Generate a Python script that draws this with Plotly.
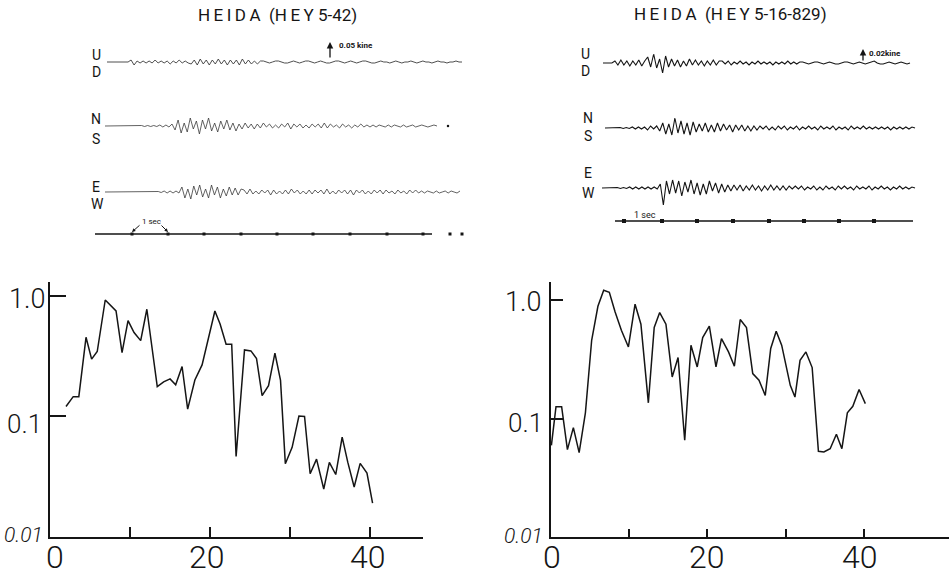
import plotly.graph_objects as go

W, H = 949, 576

# ---------------- spectra (lower panels) ----------------
left_freq = [2.0, 2.9, 3.6, 4.5, 5.2, 5.9, 6.9, 8.25, 9.0, 9.75, 10.5, 11.33, 12.1,
             13.4, 14.2, 15.0, 15.7, 16.5, 17.2, 18.1, 19.0, 20.6, 21.25, 22.0, 22.7,
             23.25, 24.3, 25.1, 25.8, 26.5, 27.3, 28.1, 28.8, 29.4, 30.25, 31.1, 31.8,
             32.5, 33.3, 34.2, 34.9, 35.7, 36.5, 37.2, 38.0, 38.75, 39.6, 40.3]
left_amp = [0.121, 0.146, 0.146, 0.454, 0.299, 0.346, 0.926, 0.751, 0.339, 0.625, 0.497,
            0.426, 0.776, 0.177, 0.194, 0.205, 0.183, 0.260, 0.115, 0.201, 0.268, 0.751,
            0.586, 0.398, 0.398, 0.0466, 0.357, 0.350, 0.303, 0.149, 0.180, 0.335, 0.199,
            0.0405, 0.0554, 0.101, 0.100, 0.0335, 0.0443, 0.025, 0.0416, 0.033, 0.0675,
            0.0418, 0.026, 0.0408, 0.0339, 0.0191]

right_freq = [0.05, 0.64, 1.36, 2.1, 2.86, 3.6, 4.4, 5.2, 6.0, 6.74, 7.46, 8.2, 9.0, 9.9,
              10.75, 11.5, 12.45, 13.2, 13.9, 14.7, 15.5, 16.25, 17.1, 17.9, 18.7, 19.4,
              20.25, 21.1, 21.8, 22.7, 23.45, 24.2, 25.0, 25.8, 26.6, 27.4, 28.1, 28.8,
              29.5, 30.6, 31.2, 31.85, 32.6, 33.4, 34.2, 34.9, 35.7, 36.5, 37.2, 37.9,
              38.6, 39.4, 40.2]
right_amp = [0.0595, 0.126, 0.126, 0.0547, 0.084, 0.0516, 0.112, 0.459, 0.889, 1.215,
             1.168, 0.797, 0.558, 0.403, 0.925, 0.627, 0.136, 0.588, 0.787, 0.627, 0.225,
             0.328, 0.0656, 0.417, 0.273, 0.484, 0.603, 0.273, 0.474, 0.366, 0.277, 0.687,
             0.588, 0.240, 0.211, 0.157, 0.391, 0.547, 0.417, 0.191, 0.152, 0.311, 0.366,
             0.270, 0.053, 0.0523, 0.0557, 0.0738, 0.0557, 0.112, 0.127, 0.176, 0.134]

x_tick_labels = ["0", "20", "40"]
y_tick_labels = ["1.0", "0.1", "0.01"]

# ---------------- velocity records (upper panels) ----------------
# deflection of the pen from the trace baseline, one sample per ~3 px of paper
heida42_ud = [0, 0, 0, 0, 0, 0, 0, 0,
              2, -3, 1, -1, 1, -1, 1, -1, 2, -1, 1, -1, 1, -2, 1, -1, 2, -1, 1, -1,
              -2, 2, -3, 3, -2, 2, -3, 2, -2, 3, -2, 2, -3, 2, -2, 2, -3, 3, -2, 2, -2, 1, -2, 1,
              1, 0, -1, 0, 1, 1, 0, -1, -1, 0, 1, 0, -1, 0, 1, 1, 0, -1, 0, 1, 0, -1, -1, 0,
              1, 1, 0, -1, 0, 1, 0, -1, 0, 1, 1, 0, -1, -1, 0, 1, 0, 0, -1, 0, 1, 0, -1, 0,
              0, 1, 0, -1, 0, 1, 0, 0, -1, 0, 1, 0, 0, -1, 0, 0, 1, 0, 0]
heida42_ns = [0, 0, 0, 0, 0, 0, 0, 0, 0, 0, 0, 0,
              0.5, -0.5, 0.5, -0.5, 0.5, -0.5,
              1, -1, 1, -1, 2,
              -4, 6, -7, 3, -6, 8, -3, 5, -8, 6, -3, 8, -5, 3, -6, 5, -3, 6, -4, 3, -5, 2, -3,
              3, -2, 2, -3, 2, -2, 3, -1, 2, -2, 1, -2, 2, -1, 3, -3, 2, -1, 2, -2, 1, -2,
              2, -1, 2, -2, 3, -2, 2, -1, 1, -2,
              2, -1, 1, -2, 1, -1, 2, -1, 1, -1, 1, -1, 1, 0, -1, 1, -1, 1, 0, -1, 1, -1,
              0, 1, -1, 0, 1, 0, -1, 0, 1, 0]
heida42_ew = [0, 0, 0, 0, 0, 0, 0, 0, 0, 0, 0, 0, 0, 0, 0, 0, 0, 0,
              0.5, -0.5, 1, -1, 1, -1, 1, -1,
              5, -6, 3, -7, 6, -3, 7, -5, 3, -6, 7, -3, 5, -6, 3, -4, 5, -3, 4, -3, 3,
              2, -2, 3, -2, 1, -2, 2, -1, 2, -3, 2, -2, 1, -2, 2, -2, 3, -1, 2, -2, 1, -2,
              2, -2, 2, -1, 2, -2, 3, -2, 1, -2, 2, -1, 2, -2, 2, -3, 2, -1, 2, -2, 1, -2,
              2, -1, 2, -2, 2, -1, 1, -2, 2, -1, 1, -2, 2, -1, 2, -1,
              1, -1, 1, 0, -1, 1, -1, 0, 1, -1, 1, 0, -1, 1]

heida829_ud = [0, 0, 0, 0,
               2, -2, 3, -2, 2, -3, 2, -2, 3, -3, 2,
               6, -4, 9, -5, 4, -10, 7, -4,
               4, -3, 3, -4, 2, -3, 4, -2, 3, -2, 2, -3, 2, -2, 3, -2, 2,
               2, -1, 2, -2, 1, -1, 2, -1, 1, -2, 1, -1, 2, -1, 1, -1, 1, -2, 1, -1, 1, -1,
               2, -1, 1, -1, 1,
               1, 0, -1, 0, 1, 1, 0, -1, 0, 1, 0, -1, -1, 0, 1, 1, 0, -1, 0, 1, 0, -1, 0,
               1, 2, 0, -1, -1, 0, 1, 0, -1, 0, 1, 0, -1, 0]
heida829_ns = [0, 0, 0, 0, 0, 0.5, -0.5, 0.5, -0.5, 1, -1, 1, -1, 1, -2, 2, -1, 2,
               -3, 5, -6, 4, -7, 10, -5, 7, -6, 5, -7, 6, -4,
               4, -3, 5, -4, 3, -4, 5, -3, 4, -2, 3, -4, 3, -2, 3, -3, 2, -3, 2, -2,
               2, -1, 2, -2, 1, -2, 2, -1, 2, -2, 1, -1, 2, -2, 1, -1, 2, -1, 1, -2,
               2, -1, 1, -1, 2, -2, 1, -1, 1, -2, 2, -1, 1, -1, 2, -1, 1, -1, 1, -1,
               1, -1, 1, -2, 1, -1, 1, -1, 1, -1, 1, 0]
heida829_ew = [0, 0, 0, 0, 0, 0.5, -0.5, 0.5, -0.5, 1, -1, 1, -1, 1, -1, 1, -1, 1, -1,
               4, -17, 7, -6, 8, -5, 7, -8, 6, -4, 8, -6, 5, -7, 4, -6, 7, -3, 5, -5, 4, -4, 3, -3,
               3, -2, 3, -3, 2, -2, 3, -2, 2, -3, 2, -2, 3, -2, 2, -2, 2, -2, 2, -1,
               2, -1, 2, -2, 1, -1, 2, -2, 1, -2, 2, -1, 1, -2, 2, -1, 2, -1, 1, -2,
               2, -1, 1, -1, 2, -2, 1, -1, 2, -1, 1, -2, 1, -1, 2, -1, 1, -1, 1, 0]

# second marks along the time lines (paper px)
marks_42 = [132, 168, 204, 241, 277, 313, 350, 387, 423]
marks_42_tail = [450, 462]
marks_829 = [624, 662, 697, 733, 769, 804, 839, 874]

INK = "#151515"
FAINT = "#3a3a3a"
NUM_FONT = "Roboto, Liberation Sans, sans-serif"
HAND_FONT = "Roboto, Liberation Sans, sans-serif"
HS = "\u2009"  # thin space for the spaced hand lettering

fig = go.Figure()

# spectra
fig.add_trace(go.Scatter(x=left_freq, y=left_amp, xaxis="x", yaxis="y", mode="lines",
                         line=dict(color=INK, width=1.5), hoverinfo="skip"))
fig.add_trace(go.Scatter(x=right_freq, y=right_amp, xaxis="x2", yaxis="y2", mode="lines",
                         line=dict(color=INK, width=1.5), hoverinfo="skip"))


def record(samples, base, x0, x1, color, width):
    step = (x1 - x0) / (len(samples) - 1)
    xs = [x0 + i * step for i in range(len(samples))]
    ys = [base - s for s in samples]
    fig.add_trace(go.Scatter(x=xs, y=ys, xaxis="x3", yaxis="y3", mode="lines",
                             line=dict(color=color, width=width), hoverinfo="skip"))


record(heida42_ud, 62, 107, 462, FAINT, 0.9)
record(heida42_ns, 126, 105, 437, FAINT, 0.8)
record(heida42_ew, 192, 105, 460, FAINT, 0.8)
record(heida829_ud, 63, 603, 910, INK, 1.1)
record(heida829_ns, 128, 605, 915, INK, 1.1)
record(heida829_ew, 188, 602, 915, INK, 1.1)

# time lines with second marks
fig.add_trace(go.Scatter(x=[95, 432], y=[234, 234], xaxis="x3", yaxis="y3", mode="lines",
                         line=dict(color=INK, width=1.3), hoverinfo="skip"))
fig.add_trace(go.Scatter(x=marks_42 + marks_42_tail, y=[234] * (len(marks_42) + len(marks_42_tail)),
                         xaxis="x3", yaxis="y3", mode="markers",
                         marker=dict(symbol="square", size=3, color=INK), hoverinfo="skip"))
fig.add_trace(go.Scatter(x=[615, 913], y=[221, 221], xaxis="x3", yaxis="y3", mode="lines",
                         line=dict(color=INK, width=1.3), hoverinfo="skip"))
fig.add_trace(go.Scatter(x=marks_829, y=[221] * len(marks_829), xaxis="x3", yaxis="y3",
                         mode="markers", marker=dict(symbol="square", size=4, color=INK),
                         hoverinfo="skip"))
# end dot of the NS record
fig.add_trace(go.Scatter(x=[448], y=[126], xaxis="x3", yaxis="y3", mode="markers",
                         marker=dict(size=2.5, color=INK), hoverinfo="skip"))

annotations = []


def txt(x, y, s, size, family=HAND_FONT, xanchor="center", weight=400, **kw):
    annotations.append(dict(x=x, y=y, xref="x3", yref="y3", text=s, showarrow=False,
                            xanchor=xanchor, yanchor="middle",
                            font=dict(family=family, size=size, color=INK, weight=weight), **kw))


def spaced(s):
    return HS.join(s)


# titles
txt(277, 15, spaced("HEIDA") + "  (" + spaced("HEY") + " 5-42)", 17)
txt(730, 14, spaced("HEIDA") + "  (" + spaced("HEY") + " 5-16-829)", 17)

# component letters
for s, x, y in [("U", 96, 55), ("D", 96, 72), ("N", 96, 119), ("S", 96, 139),
                ("E", 96, 187), ("W", 97, 204),
                ("U", 585, 54), ("D", 585, 71), ("N", 588, 118), ("S", 588, 136),
                ("E", 588, 173), ("W", 588, 193)]:
    txt(x, y, s, 14)

# amplitude scales
txt(337, 45, "0.05 kine", 8, xanchor="left", weight=700)
txt(867, 53, "0.02kine", 8, xanchor="left", weight=700)
for x, y0, y1 in [(330, 59, 42), (863, 62, 49)]:
    annotations.append(dict(x=x, y=y1, xref="x3", yref="y3", ax=x, ay=y0, axref="x3",
                            ayref="y3", text="", showarrow=True, arrowhead=2,
                            arrowsize=1, arrowwidth=1.3, arrowcolor=INK))

# one-second labels
txt(151, 221, "1 sec", 8)
txt(645, 215, "1 sec", 9)
for x, y, ax, ay in [(132, 232, 141, 224), (168, 232, 160, 224)]:
    annotations.append(dict(x=x, y=y, xref="x3", yref="y3", ax=ax, ay=ay, axref="x3",
                            ayref="y3", text="", showarrow=True, arrowhead=2,
                            arrowsize=0.7, arrowwidth=1, arrowcolor=INK))

# tick labels of the spectra
for xa, shifts in [("x", [5, -3, -2]), ("x2", [1, 0, -4])]:
    for lab, val, sh in zip(x_tick_labels, [0, 20, 40], shifts):
        annotations.append(dict(x=val, y=1 - 557 / H, xref=xa, yref="paper", text=lab,
                                showarrow=False, xanchor="center", yanchor="middle",
                                xshift=sh, font=dict(family=NUM_FONT, size=32, color=INK,
                                                     weight=300)))

for xa, ya, specs in [("x", "y", [(-3, -3, 27), (-6, -8, 26), (-5, 2, 21)]),
                      ("x2", "y2", [(-8, -2, 27), (-6, -4, 26), (-6, 1, 21)])]:
    for lab, lv, (xs, ys, sz) in zip(y_tick_labels, [0, -1, -2], specs):
        annotations.append(dict(x=0, y=lv, xref=xa, yref=ya, text=lab, showarrow=False,
                                xanchor="right", yanchor="middle", xshift=xs, yshift=ys,
                                font=dict(family=NUM_FONT, size=sz, color=INK, weight=300,
                                          style="italic" if lab == "0.01" else "normal")))

axis_common = dict(showline=True, linecolor=INK, linewidth=1.6, ticks="inside",
                   tickcolor=INK, tickwidth=1.6, showticklabels=False, showgrid=False,
                   zeroline=False, fixedrange=True)

fig.update_layout(
    width=W, height=H, margin=dict(l=0, r=0, t=0, b=0),
    paper_bgcolor="white", plot_bgcolor="rgba(0,0,0,0)", showlegend=False,
    xaxis=dict(domain=[50 / W, 423 / W], range=[0, 46.6], anchor="y",
               tickvals=[10, 20, 30, 40], ticklen=10, **axis_common),
    yaxis=dict(domain=[1 - 537 / H, 1 - 282 / H], type="log", range=[-2, 0.116], anchor="x",
               tickvals=[0.1, 1.0], ticklen=16, **axis_common),
    xaxis2=dict(domain=[551 / W, 1.0], range=[0, 50.9], anchor="y2",
                tickvals=[10, 20, 30, 40], ticklen=8, **axis_common),
    yaxis2=dict(domain=[1 - 537 / H, 1 - 282 / H], type="log", range=[-2, 0.154], anchor="x2",
                tickvals=[0.1, 1.0], ticklen=12, **axis_common),
    xaxis3=dict(domain=[0, 1], range=[0, W], anchor="y3", visible=False, fixedrange=True),
    yaxis3=dict(domain=[0, 1], range=[H, 0], anchor="x3", visible=False, fixedrange=True),
    annotations=annotations,
)

fig.write_html("out.html")
